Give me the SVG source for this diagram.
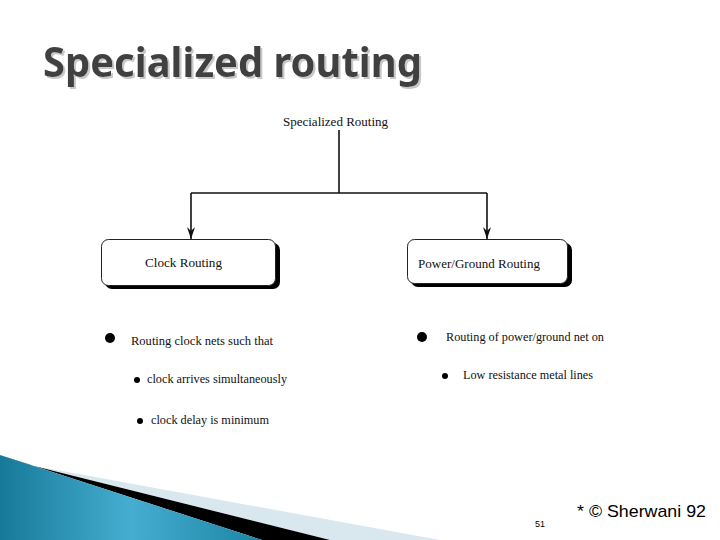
<svg xmlns="http://www.w3.org/2000/svg" width="720" height="540" viewBox="0 0 720 540">
<defs>
<style>
.lbl{font-family:"Liberation Serif","Times New Roman",serif;font-size:12px;fill:#111}
.box{fill:#fff;stroke:#222;stroke-width:1}
.sh{fill:#000}
.ln{stroke:#111;stroke-width:1.6;fill:none}
</style>
<marker id="ah" viewBox="0 0 12 8" refX="12" refY="4" markerWidth="12" markerHeight="8" markerUnits="userSpaceOnUse" orient="auto">
<path d="M0,0 L12,4 L0,8 L4,4 Z" fill="#111"/>
</marker>
<linearGradient id="bg" x1="0" y1="0" x2="1" y2="0">
<stop offset="0" stop-color="#17799a"/>
<stop offset="0.5" stop-color="#45aed0"/>
<stop offset="1" stop-color="#1c85a6"/>
</linearGradient>
<filter id="tsh" x="-5%" y="-20%" width="110%" height="140%">
<feDropShadow dx="2" dy="2" stdDeviation="0.6" flood-color="#c8c8c8"/>
</filter>
</defs>
<rect width="720" height="540" fill="#fff"/>
<g id="title">
<text x="43" y="77" font-family="Noto Sans,DejaVu Sans,sans-serif" font-weight="bold" font-size="41" fill="#404040" filter="url(#tsh)" textLength="379" lengthAdjust="spacingAndGlyphs">Specialized routing</text>
</g>
<g id="decor">
<polygon points="35,466 440,540 330,540" fill="#d9e8ee"/>
<polygon points="30,465 330,540 262,540 0,455" fill="#000"/>
<polygon points="0,455 262,540 0,540" fill="url(#bg)"/>
</g>
<g id="root">
<text class="lbl" x="283" y="126" textLength="105" lengthAdjust="spacingAndGlyphs">Specialized Routing</text>
</g>
<g id="connectors">
<path class="ln" d="M339,130 V193"/>
<path class="ln" d="M191,193 H487"/>
<path class="ln" d="M191,193 V239" marker-end="url(#ah)"/>
<path class="ln" d="M487,193 V239" marker-end="url(#ah)"/>
</g>
<g id="clock">
<rect class="sh" x="105" y="243" width="175" height="46" rx="7"/>
<rect class="box" x="101.5" y="239.5" width="174" height="46" rx="7"/>
<text class="lbl" x="145" y="267" textLength="77" lengthAdjust="spacingAndGlyphs">Clock Routing</text>
</g>
<g id="power">
<rect class="sh" x="411" y="243" width="161" height="44" rx="7"/>
<rect class="box" x="407.5" y="239.5" width="160" height="44" rx="7"/>
<text class="lbl" x="418" y="268" textLength="122" lengthAdjust="spacingAndGlyphs">Power/Ground Routing</text>
</g>
<g id="clock-bullets">
<circle cx="110" cy="338" r="5" fill="#000"/>
<text class="lbl" x="131" y="345" textLength="142" lengthAdjust="spacingAndGlyphs">Routing  clock nets such that</text>
<circle cx="137" cy="380" r="3" fill="#000"/>
<text class="lbl" x="147" y="383" textLength="140" lengthAdjust="spacingAndGlyphs">clock arrives simultaneously</text>
<circle cx="140" cy="421" r="3" fill="#000"/>
<text class="lbl" x="151" y="424" textLength="118" lengthAdjust="spacingAndGlyphs">clock delay is minimum</text>
</g>
<g id="power-bullets">
<circle cx="422" cy="337" r="5" fill="#000"/>
<text class="lbl" x="446" y="341" textLength="158" lengthAdjust="spacingAndGlyphs">Routing of power/ground net on</text>
<circle cx="445" cy="376" r="3" fill="#000"/>
<text class="lbl" x="463" y="379" textLength="130" lengthAdjust="spacingAndGlyphs">Low resistance metal lines</text>
</g>
<g id="footer">
<text x="577" y="517" font-family="Liberation Sans,Arial,sans-serif" font-size="17" fill="#000" textLength="129" lengthAdjust="spacingAndGlyphs">* © Sherwani 92</text>
<text x="535" y="527" font-family="Liberation Sans,Arial,sans-serif" font-size="9" fill="#000">51</text>
</g>
</svg>
